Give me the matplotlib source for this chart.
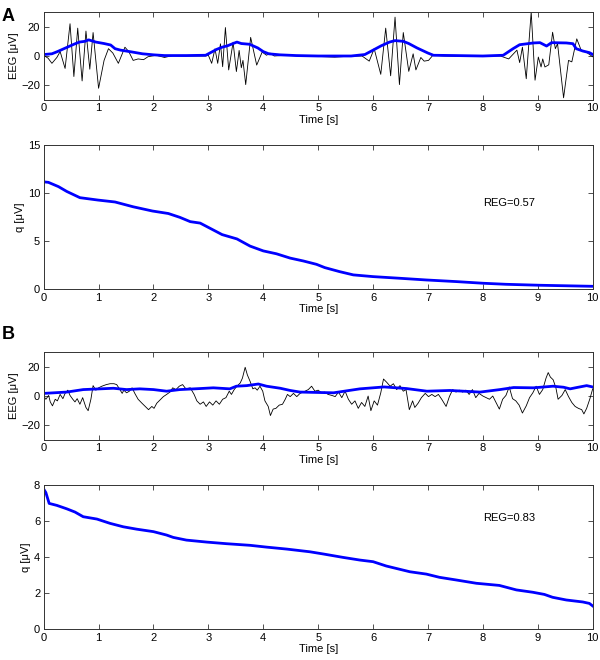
import numpy as np
import matplotlib
matplotlib.use('Agg')
import matplotlib.pyplot as plt

plt.rcParams['font.family'] = ['Liberation Sans', 'DejaVu Sans']
plt.rcParams['font.size'] = 8

# ---------------- Panel A : EEG trace (black) ----------------
a_eeg_t = [0.00, 0.08, 0.15, 0.24, 0.30, 0.39, 0.48, 0.55, 0.62, 0.70, 0.77, 0.84, 0.90, 1.00,
           1.10, 1.18, 1.26, 1.36, 1.48, 1.55, 1.63, 1.72, 1.82, 1.90, 2.05, 2.20, 2.35, 2.60,
           2.95, 3.00, 3.06, 3.12, 3.17, 3.22, 3.26, 3.31, 3.37, 3.45, 3.51, 3.56, 3.60, 3.63,
           3.68, 3.77, 3.88, 3.98, 4.06, 4.12, 4.20, 4.40, 4.70, 5.00, 5.30, 5.50, 5.80, 5.93,
           6.02, 6.14, 6.23, 6.32, 6.40, 6.48, 6.55, 6.65, 6.73, 6.78, 6.87, 6.93, 7.01, 7.09,
           7.30, 7.60, 8.00, 8.32, 8.47, 8.62, 8.67, 8.72, 8.79, 8.88, 8.95, 9.01, 9.06, 9.09,
           9.13, 9.20, 9.27, 9.32, 9.36, 9.47, 9.56, 9.62, 9.71, 9.79, 9.88, 10.00]
a_eeg_v = [0.5, -1.5, -5.0, -1.0, 3.0, -8.5, 22.0, -14.0, 19.0, -17.0, 17.0, -9.0, 16.0, -22.0,
           -3.0, 5.0, 2.0, -5.0, 6.0, 3.0, -3.0, -2.0, -2.5, -0.5, 0.5, -1.0, 0.3, 0.0,
           0.0, 0.5, -5.0, 4.9, -5.0, 8.3, -7.3, 19.4, -9.5, 9.4, -10.6, 3.8, -8.0, -3.0,
           -19.5, 12.7, -6.2, 2.7, 0.5, 2.0, 0.0, 0.5, 0.0, -0.3, -0.8, -0.3, 0.0, -3.5,
           5.0, -12.5, 19.0, -13.5, 26.5, -19.5, 16.0, -10.5, 1.5, -9.5, -1.0, -3.5, -3.0, 0.5,
           0.0, -0.2, 0.0, 0.0, -2.0, 4.0, -4.5, 6.0, -15.5, 30.0, -16.5, -0.7, -7.5, -2.0,
           -7.5, -6.0, 16.2, 5.0, 8.4, -28.5, -3.0, -4.0, 11.7, 4.0, 2.7, -0.5]

# ---------------- Panel A : envelope (blue) ----------------
a_env_t = [0.00, 0.15, 0.25, 0.40, 0.55, 0.65, 0.75, 0.82, 0.95, 1.10, 1.22, 1.30, 1.40, 1.60,
           1.80, 2.00, 2.20, 2.60, 2.95, 3.05, 3.15, 3.25, 3.35, 3.45, 3.52, 3.60, 3.75, 3.90,
           4.00, 4.10, 4.30, 4.60, 5.00, 5.60, 5.85, 6.00, 6.15, 6.30, 6.40, 6.55, 6.65, 6.80,
           7.00, 7.10, 7.50, 8.00, 8.37, 8.55, 8.67, 8.92, 9.04, 9.16, 9.25, 9.52, 9.64, 9.70,
           9.82, 9.94, 10.00]
a_env_v = [1.0, 1.5, 3.0, 5.5, 8.0, 9.5, 10.0, 11.0, 9.5, 8.5, 7.5, 5.0, 4.0, 2.8,
           1.5, 0.8, 0.3, 0.3, 0.5, 2.5, 4.5, 6.0, 7.0, 8.5, 9.5, 8.5, 8.0, 5.5,
           3.0, 1.5, 0.8, 0.3, 0.0, 0.0, 1.0, 4.0, 7.0, 9.5, 10.5, 10.0, 8.5, 5.5,
           2.0, 0.5, 0.3, 0.0, 0.5, 5.0, 7.7, 8.9, 9.1, 6.8, 9.1, 8.9, 8.4, 5.0,
           3.4, 2.3, 1.1]

# ---------------- Panel A : q ----------------
a_q_t = [0.0, 0.085, 0.27, 0.42, 0.66, 0.99, 1.30, 1.63, 1.98, 2.27, 2.48, 2.67, 2.85, 3.0,
         3.25, 3.40, 3.52, 3.76, 4.0, 4.24, 4.49, 4.73, 4.97, 5.12, 5.39, 5.64, 6.0, 6.48,
         6.97, 7.52, 8.0, 8.42, 9.03, 10.0]
a_q_v = [11.2, 11.15, 10.7, 10.2, 9.55, 9.3, 9.1, 8.6, 8.16, 7.9, 7.5, 7.05, 6.9, 6.45,
         5.7, 5.45, 5.25, 4.5, 4.0, 3.7, 3.25, 2.95, 2.6, 2.26, 1.84, 1.5, 1.32, 1.15,
         0.97, 0.8, 0.63, 0.52, 0.42, 0.31]
a_reg = 'REG=0.57'

# ---------------- Panel B : EEG trace (black) ----------------
b_eeg_t = [0.00, 0.04, 0.09, 0.12, 0.16, 0.21, 0.25, 0.30, 0.35, 0.39, 0.44, 0.48, 0.53, 0.57,
           0.61, 0.66, 0.71, 0.77, 0.81, 0.86, 0.90, 0.95, 1.00, 1.06, 1.14, 1.21, 1.28, 1.33,
           1.38, 1.43, 1.46, 1.51, 1.56, 1.61, 1.66, 1.72, 1.79, 1.85, 1.91, 1.97, 2.01, 2.06,
           2.12, 2.18, 2.24, 2.30, 2.35, 2.41, 2.47, 2.53, 2.59, 2.67, 2.74, 2.79, 2.85, 2.91,
           2.96, 3.02, 3.08, 3.14, 3.20, 3.26, 3.32, 3.38, 3.42, 3.47, 3.52, 3.58, 3.62, 3.67,
           3.71, 3.76, 3.81, 3.85, 3.89, 3.94, 3.99, 4.03, 4.09, 4.13, 4.18, 4.23, 4.29, 4.35,
           4.40, 4.44, 4.49, 4.55, 4.61, 4.67, 4.76, 4.82, 4.88, 4.94, 5.00, 5.06, 5.12, 5.18,
           5.25, 5.31, 5.37, 5.43, 5.49, 5.55, 5.61, 5.67, 5.73, 5.79, 5.85, 5.91, 5.96, 6.02,
           6.08, 6.14, 6.19, 6.25, 6.31, 6.37, 6.43, 6.49, 6.55, 6.60, 6.66, 6.72, 6.76, 6.82,
           6.88, 6.95, 7.01, 7.07, 7.13, 7.19, 7.25, 7.33, 7.39, 7.45, 7.51, 7.57, 7.63, 7.69,
           7.75, 7.81, 7.87, 7.93, 8.00, 8.06, 8.12, 8.18, 8.24, 8.30, 8.36, 8.42, 8.48, 8.54,
           8.60, 8.66, 8.72, 8.79, 8.85, 8.91, 8.97, 9.03, 9.09, 9.15, 9.19, 9.23, 9.28, 9.33,
           9.37, 9.44, 9.50, 9.56, 9.62, 9.68, 9.74, 9.80, 9.84, 9.89, 9.95, 10.00]
b_eeg_v = [0.0, -2.2, 0.4, -4.0, -6.7, -2.2, -3.3, 1.1, -1.8, 1.8, 4.0, 0.4, -2.2, -4.0,
           -1.8, -5.6, -1.1, -7.8, -10.0, -2.2, 7.1, 4.0, 5.6, 6.7, 7.8, 8.4, 8.4, 7.8,
           4.9, 1.8, 4.0, 2.2, 3.3, 5.6, 1.8, -2.2, -4.9, -7.1, -9.3, -7.1, -8.4, -4.9,
           -2.7, -0.4, 1.1, 2.7, 5.6, 4.4, 6.7, 7.8, 4.9, 5.6, 1.1, -3.3, -5.6, -4.0,
           -7.1, -4.0, -6.2, -3.3, -5.6, -2.2, -1.1, 3.3, 1.1, 4.4, 6.7, 8.9, 12.2, 19.6,
           14.4, 10.0, 4.9, 5.6, 4.0, 6.7, 3.3, -3.3, -7.1, -13.3, -8.9, -8.4, -6.2, -5.6,
           -2.2, 1.1, -0.4, 1.8, -0.4, 1.8, 3.3, 4.4, 6.7, 3.3, 4.0, 2.2, 2.7, 1.1,
           0.4, -0.4, 2.7, -1.1, 3.3, -2.2, -5.6, -3.3, -8.4, -4.4, -7.1, 0.0, -10.0, -3.3,
           -6.2, 2.2, 11.6, 9.3, 6.7, 8.4, 4.4, 7.1, 3.3, 4.4, -9.3, -3.3, -7.8, -4.9,
           -1.1, 1.8, -0.4, 1.1, -0.4, 1.1, -2.2, -7.1, -0.4, 4.4, 2.7, 4.0, 2.7, 4.0,
           1.1, 4.4, -1.1, 1.8, 0.0, -1.1, -2.2, 0.0, -4.4, -8.9, -2.2, 0.4, 6.2, -1.8,
           -3.3, -6.2, -11.6, -6.7, -1.1, 2.2, 6.7, 1.1, 4.4, 12.2, 16.0, 12.9, 11.1, 5.6,
           -2.2, 0.4, 4.4, -0.4, -4.4, -7.1, -8.4, -9.3, -12.2, -8.4, -1.8, 4.9]

# ---------------- Panel B : envelope (blue) ----------------
b_env_t = [0.00, 0.42, 0.72, 1.03, 1.27, 1.51, 1.75, 2.00, 2.24, 2.48, 2.85, 3.09, 3.39, 3.51,
           3.70, 3.91, 4.06, 4.31, 4.49, 4.67, 5.28, 5.76, 6.20, 6.61, 6.98, 7.40, 7.95, 8.31,
           8.56, 8.92, 9.28, 9.47, 9.59, 9.71, 9.89, 10.00]
b_env_v = [1.8, 2.7, 4.4, 4.9, 5.3, 4.4, 4.9, 4.4, 3.3, 4.4, 5.1, 5.6, 4.9, 6.7,
           7.1, 8.2, 6.7, 5.3, 3.8, 2.7, 2.2, 4.9, 6.2, 5.1, 3.3, 3.8, 2.7, 4.4,
           5.8, 5.6, 6.7, 6.0, 4.9, 5.8, 7.1, 6.2]

# ---------------- Panel B : q ----------------
b_q_t = [0.0, 0.04, 0.10, 0.24, 0.42, 0.57, 0.72, 0.97, 1.21, 1.45, 1.69, 2.0, 2.24, 2.36,
         2.60, 2.97, 3.33, 3.76, 4.06, 4.43, 4.85, 5.09, 5.45, 5.76, 6.0, 6.24, 6.67, 6.97,
         7.21, 7.52, 7.88, 8.30, 8.61, 8.91, 9.12, 9.27, 9.52, 9.82, 9.94, 10.0]
b_q_v = [7.8, 7.6, 7.0, 6.89, 6.7, 6.52, 6.26, 6.13, 5.89, 5.7, 5.57, 5.43, 5.24, 5.11,
         4.96, 4.85, 4.76, 4.67, 4.57, 4.46, 4.31, 4.19, 4.0, 3.85, 3.76, 3.52, 3.2, 3.07,
         2.89, 2.74, 2.56, 2.44, 2.19, 2.06, 1.94, 1.78, 1.63, 1.52, 1.44, 1.3]
b_reg = 'REG=0.83'

eeg_ticks = [-20, 0, 20]
time_ticks = list(range(0, 11))
BLUE = '#0000ff'


def style_axes(ax):
    ax.set_xlim(0, 10)
    ax.set_xticks(time_ticks)
    ax.tick_params(direction='in', top=True, right=True, length=3.5, width=0.6,
                   labelsize=8, pad=2.5, color='#333333')
    for s in ax.spines.values():
        s.set_linewidth(0.7)
        s.set_color('#333333')
    ax.set_xlabel('Time [s]', fontsize=8, labelpad=1)


fig = plt.figure(figsize=(6.0, 6.6), dpi=100)
L, W = 0.0728, 0.915

# A: EEG
ax1 = fig.add_axes([L, 0.8485, W, 0.1333])
ax1.plot(a_eeg_t, a_eeg_v, color='black', linewidth=0.6)
ax1.plot(a_env_t, a_env_v, color=BLUE, linewidth=2.0)
ax1.set_ylim(-30, 30)
ax1.set_yticks(eeg_ticks)
ax1.set_ylabel('EEG [μV]', fontsize=8, labelpad=2)
style_axes(ax1)

# A: q
ax2 = fig.add_axes([L, 0.5617, W, 0.218])
ax2.plot(a_q_t, a_q_v, color=BLUE, linewidth=2.0)
ax2.set_ylim(0, 15)
ax2.set_yticks([0, 5, 10, 15])
ax2.set_ylabel('q [μV]', fontsize=8, labelpad=2)
ax2.text(8.0, 9.0, a_reg, fontsize=8, ha='left', va='center')
style_axes(ax2)

# B: EEG
ax3 = fig.add_axes([L, 0.3333, W, 0.1333])
ax3.plot(b_eeg_t, b_eeg_v, color='black', linewidth=0.6)
ax3.plot(b_env_t, b_env_v, color=BLUE, linewidth=2.0)
ax3.set_ylim(-30, 30)
ax3.set_yticks(eeg_ticks)
ax3.set_ylabel('EEG [μV]', fontsize=8, labelpad=2)
style_axes(ax3)

# B: q
ax4 = fig.add_axes([L, 0.0465, W, 0.218])
ax4.plot(b_q_t, b_q_v, color=BLUE, linewidth=2.0)
ax4.set_ylim(0, 8)
ax4.set_yticks([0, 2, 4, 6, 8])
ax4.set_ylabel('q [μV]', fontsize=8, labelpad=2)
ax4.text(8.0, 6.2, b_reg, fontsize=8, ha='left', va='center')
style_axes(ax4)

fig.text(0.003, 0.988, 'A', fontsize=13, fontweight='bold', ha='left', va='top')
fig.text(0.003, 0.506, 'B', fontsize=13, fontweight='bold', ha='left', va='top')

fig.savefig('out.png', dpi=100)
